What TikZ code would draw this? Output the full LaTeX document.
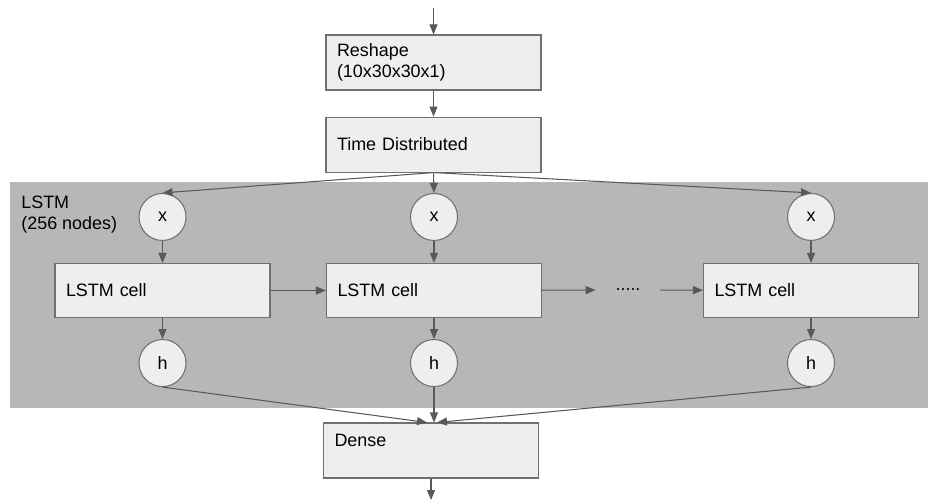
\documentclass[tikz,border=0pt]{standalone}
\usepackage{fontspec}
\setmainfont{Liberation Sans}
\usepackage{tikz}
\usetikzlibrary{positioning,arrows.meta}
\definecolor{grey700}{HTML}{595959}
\definecolor{grey500}{HTML}{707070}
\definecolor{grey300}{HTML}{B7B7B7}
\definecolor{grey100}{HTML}{EEEEEE}
\newcommand{\lbsize}{\fontsize{10.2}{12}\selectfont}
\tikzset{
  layer/.style ={draw=grey500, line width=0.6pt, fill=grey100,
                 minimum width=4.3cm, minimum height=1.1cm,
                 text width=3.86cm, inner xsep=0.22cm, align=left,
                 font=\lbsize},
  io/.style    ={circle, draw=grey500, line width=0.6pt, fill=grey100,
                 minimum size=0.94cm, inner sep=0pt, font=\lbsize},
  ar/.style    ={-{Triangle[length=2mm,width=1.6mm]}, draw=grey700,
                 line width=0.6pt},
  tag/.style   ={font=\lbsize, align=left, inner sep=0pt}
}
\begin{document}
\begin{tikzpicture}[node distance=0.52cm]
\useasboundingbox (0,0) rectangle (18.6,-10.08);
\fill[grey300] (0.2,-3.65) rectangle (18.56,-8.16);

\node[layer] (reshape) at (8.67,-1.25) {Reshape\\(10x30x30x1)};
\node[layer, below=of reshape] (td) {Time Distributed};
\node[tag, anchor=west] (lstm) at (0.42,-4.3) {LSTM\\(256 nodes)};

\node[layer, minimum height=1.08cm] (c1) at (3.25,-5.81) {LSTM cell};
\node[layer, minimum height=1.08cm] (c2) at (8.68,-5.81) {LSTM cell};
\node[layer, minimum height=1.08cm] (c3) at (16.22,-5.81) {LSTM cell};
\node[font=\lbsize, minimum width=1.28cm, inner sep=0pt] (dots)
  at (12.56,-5.8) {.....};

\foreach \i in {1,2,3} {
  \node[io, above=0.44cm of c\i] (x\i) {x};
  \node[io, below=0.42cm of c\i] (h\i) {h};
}

\node[layer] (dense) at (8.62,-9.01) {Dense\\~};
\coordinate (in) at (8.67,-0.16);
\coordinate (out) at (8.62,-10.0);

\draw[ar] (in) -- (reshape);
\draw[ar] (reshape) -- (td);
\foreach \i in {1,2,3} {
  \draw[ar] (td.south) -- (x\i.north);
  \draw[ar] (x\i) -- (x\i |- c\i.north);
  \draw[ar] (h\i |- c\i.south) -- (h\i);
}
\draw[ar] (c1) -- (c2);
\draw[ar] (c2) -- (dots);
\draw[ar] (dots) -- (c3);
\draw[ar] (h1.south) -- ([xshift=-0.8mm]dense.north);
\draw[ar] (h2.south) -- (h2.south |- dense.north);
\draw[ar] (h3.south) -- ([xshift=1.2mm]dense.north);
\draw[ar] (dense) -- (out);
\end{tikzpicture}
\end{document}
